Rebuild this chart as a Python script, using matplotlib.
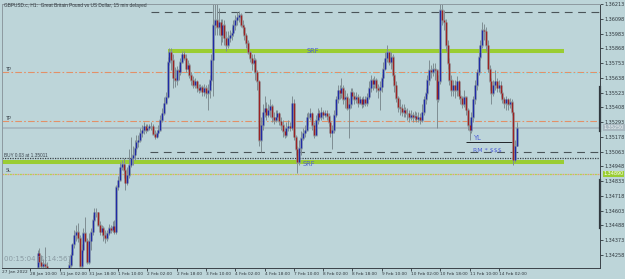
import numpy as np
import matplotlib.pyplot as plt
from matplotlib import transforms

# GBPUSD.c H1 bars, bar index 0 = 28 Jan 10:00, first drawn bar is index 4
first_bar = 4
open0 = 1.3416
close = [1.3427, 1.3420, 1.3417, 1.3419, 1.3417, 1.3413,
         1.3408, 1.3404, 1.3400, 1.3398, 1.3402, 1.3405, 1.3401, 1.3399, 1.3403, 1.3406, 1.3410,
         1.3418, 1.3426, 1.3434, 1.3441, 1.3444, 1.3439, 1.3417, 1.3430, 1.3443, 1.3437,
         1.3420, 1.3437, 1.3444, 1.3453, 1.3459, 1.3459, 1.3449, 1.3444, 1.3447, 1.3441,
         1.3439, 1.3443, 1.3447, 1.3445, 1.3448, 1.3444, 1.3479, 1.3484, 1.3494, 1.3497,
         1.3492, 1.3482, 1.3488, 1.3496, 1.3501, 1.3504, 1.3509, 1.3514, 1.3515, 1.3521,
         1.3523, 1.3526, 1.3523, 1.3525, 1.3526, 1.3526, 1.3520, 1.3518, 1.3521, 1.3523,
         1.3531, 1.3536, 1.3544, 1.3549, 1.3576, 1.3584, 1.3578, 1.3564, 1.3562, 1.3570,
         1.3568, 1.3576, 1.3582, 1.3579, 1.3571, 1.3574, 1.3566, 1.3562, 1.3558, 1.3561,
         1.3556, 1.3554, 1.3557, 1.3553, 1.3556, 1.3552, 1.3554, 1.3562, 1.3578, 1.3605,
         1.3609, 1.3603, 1.3607, 1.3597, 1.3605, 1.3595, 1.3589, 1.3595, 1.3597, 1.3599,
         1.3605, 1.3609, 1.3611, 1.3613, 1.3605, 1.3603, 1.3597, 1.3591, 1.3584, 1.3579,
         1.3575, 1.3578, 1.3568, 1.3561, 1.3515, 1.3527, 1.3537, 1.3540, 1.3535, 1.3539,
         1.3542, 1.3533, 1.3531, 1.3533, 1.3536, 1.3530, 1.3527, 1.3522, 1.3519, 1.3525,
         1.3526, 1.3525, 1.3544, 1.3518, 1.3508, 1.3498, 1.3509, 1.3517, 1.3521, 1.3523,
         1.3533, 1.3533, 1.3536, 1.3527, 1.3519, 1.3531, 1.3536, 1.3533, 1.3537, 1.3535,
         1.3536, 1.3534, 1.3529, 1.3521, 1.3523, 1.3535, 1.3547, 1.3554, 1.3552, 1.3556,
         1.3547, 1.3549, 1.3540, 1.3543, 1.3553, 1.3550, 1.3547, 1.3549, 1.3544, 1.3547,
         1.3543, 1.3547, 1.3544, 1.3549, 1.3556, 1.3562, 1.3559, 1.3562, 1.3556, 1.3554,
         1.3557, 1.3564, 1.3571, 1.3579, 1.3584, 1.3576, 1.3580, 1.3566, 1.3558, 1.3548,
         1.3541, 1.3540, 1.3537, 1.3539, 1.3536, 1.3536, 1.3533, 1.3535, 1.3533, 1.3534,
         1.3532, 1.3533, 1.3531, 1.3537, 1.3547, 1.3552, 1.3562, 1.3570, 1.3568, 1.3571,
         1.3570, 1.3547, 1.3561, 1.3617, 1.3609, 1.3607, 1.3589, 1.3575, 1.3562, 1.3554,
         1.3558, 1.3554, 1.3561, 1.3550, 1.3548, 1.3543, 1.3549, 1.3539, 1.3527, 1.3523,
         1.3533, 1.3547, 1.3558, 1.3568, 1.3580, 1.3589, 1.3601, 1.3600, 1.3589, 1.3571,
         1.3561, 1.3552, 1.3558, 1.3561, 1.3556, 1.3558, 1.3552, 1.3547, 1.3544, 1.3547,
         1.3543, 1.3545, 1.3537, 1.3500, 1.3511, 1.3525]
high = [1.3430, 1.3431, 1.3426, 1.3423, 1.3432, 1.3420,
        1.3413, 1.3409, 1.3406, 1.3404, 1.3406, 1.3410, 1.3407, 1.3404, 1.3407, 1.3411, 1.3414,
        1.3423, 1.3428, 1.3435, 1.3445, 1.3449, 1.3451, 1.3441, 1.3434, 1.3447, 1.3455,
        1.3439, 1.3443, 1.3447, 1.3457, 1.3462, 1.3462, 1.3459, 1.3452, 1.3449, 1.3448,
        1.3445, 1.3445, 1.3450, 1.3449, 1.3452, 1.3453, 1.3480, 1.3487, 1.3498, 1.3500,
        1.3501, 1.3496, 1.3494, 1.3508, 1.3518, 1.3511, 1.3515, 1.3519, 1.3519, 1.3525,
        1.3527, 1.3529, 1.3528, 1.3528, 1.3528, 1.3529, 1.3528, 1.3523, 1.3523, 1.3527,
        1.3535, 1.3540, 1.3549, 1.3553, 1.3580, 1.3587, 1.3587, 1.3582, 1.3572, 1.3573,
        1.3574, 1.3579, 1.3585, 1.3585, 1.3582, 1.3578, 1.3575, 1.3568, 1.3565, 1.3564,
        1.3562, 1.3559, 1.3559, 1.3558, 1.3559, 1.3558, 1.3559, 1.3566, 1.3582, 1.3628,
        1.3621, 1.3621, 1.3618, 1.3610, 1.3610, 1.3609, 1.3600, 1.3600, 1.3601, 1.3603,
        1.3609, 1.3613, 1.3615, 1.3616, 1.3614, 1.3609, 1.3605, 1.3599, 1.3593, 1.3585,
        1.3582, 1.3582, 1.3579, 1.3570, 1.3562, 1.3533, 1.3543, 1.3550, 1.3545, 1.3543,
        1.3547, 1.3543, 1.3537, 1.3539, 1.3539, 1.3537, 1.3533, 1.3531, 1.3525, 1.3529,
        1.3531, 1.3529, 1.3550, 1.3547, 1.3519, 1.3511, 1.3515, 1.3522, 1.3525, 1.3527,
        1.3536, 1.3537, 1.3540, 1.3537, 1.3529, 1.3535, 1.3540, 1.3539, 1.3541, 1.3539,
        1.3539, 1.3539, 1.3536, 1.3531, 1.3527, 1.3539, 1.3550, 1.3558, 1.3558, 1.3564,
        1.3558, 1.3554, 1.3552, 1.3548, 1.3556, 1.3556, 1.3553, 1.3553, 1.3551, 1.3550,
        1.3549, 1.3550, 1.3550, 1.3552, 1.3561, 1.3566, 1.3564, 1.3565, 1.3564, 1.3559,
        1.3561, 1.3567, 1.3576, 1.3584, 1.3589, 1.3585, 1.3584, 1.3582, 1.3568, 1.3561,
        1.3550, 1.3547, 1.3543, 1.3543, 1.3541, 1.3540, 1.3539, 1.3539, 1.3537, 1.3538,
        1.3537, 1.3537, 1.3536, 1.3543, 1.3550, 1.3556, 1.3566, 1.3578, 1.3574, 1.3575,
        1.3575, 1.3571, 1.3566, 1.3631, 1.3628, 1.3617, 1.3610, 1.3593, 1.3579, 1.3566,
        1.3562, 1.3562, 1.3565, 1.3562, 1.3554, 1.3550, 1.3554, 1.3550, 1.3540, 1.3531,
        1.3537, 1.3550, 1.3562, 1.3571, 1.3584, 1.3593, 1.3607, 1.3606, 1.3603, 1.3593,
        1.3574, 1.3564, 1.3562, 1.3570, 1.3564, 1.3562, 1.3561, 1.3554, 1.3549, 1.3550,
        1.3548, 1.3548, 1.3547, 1.3539, 1.3515, 1.3529]
low = [1.3414, 1.3419, 1.3414, 1.3413, 1.3410, 1.3408,
       1.3403, 1.3399, 1.3395, 1.3393, 1.3397, 1.3400, 1.3396, 1.3394, 1.3398, 1.3401, 1.3405,
       1.3410, 1.3416, 1.3418, 1.3431, 1.3437, 1.3436, 1.3416, 1.3414, 1.3428, 1.3436,
       1.3419, 1.3419, 1.3430, 1.3441, 1.3452, 1.3455, 1.3448, 1.3441, 1.3441, 1.3437,
       1.3435, 1.3437, 1.3441, 1.3443, 1.3444, 1.3442, 1.3442, 1.3476, 1.3483, 1.3492,
       1.3486, 1.3476, 1.3480, 1.3486, 1.3494, 1.3496, 1.3500, 1.3506, 1.3510, 1.3514,
       1.3518, 1.3520, 1.3521, 1.3522, 1.3523, 1.3523, 1.3519, 1.3516, 1.3517, 1.3519,
       1.3522, 1.3529, 1.3535, 1.3543, 1.3548, 1.3574, 1.3570, 1.3556, 1.3557, 1.3558,
       1.3562, 1.3566, 1.3575, 1.3578, 1.3568, 1.3570, 1.3564, 1.3558, 1.3556, 1.3556,
       1.3553, 1.3552, 1.3553, 1.3550, 1.3550, 1.3548, 1.3539, 1.3548, 1.3558, 1.3550,
       1.3597, 1.3597, 1.3597, 1.3589, 1.3592, 1.3589, 1.3585, 1.3587, 1.3592, 1.3593,
       1.3596, 1.3601, 1.3605, 1.3607, 1.3603, 1.3599, 1.3593, 1.3587, 1.3582, 1.3576,
       1.3570, 1.3568, 1.3562, 1.3554, 1.3511, 1.3506, 1.3523, 1.3533, 1.3531, 1.3533,
       1.3533, 1.3529, 1.3528, 1.3529, 1.3531, 1.3527, 1.3523, 1.3518, 1.3517, 1.3518,
       1.3522, 1.3522, 1.3523, 1.3515, 1.3504, 1.3490, 1.3496, 1.3504, 1.3515, 1.3518,
       1.3522, 1.3527, 1.3531, 1.3523, 1.3517, 1.3519, 1.3528, 1.3531, 1.3531, 1.3532,
       1.3533, 1.3531, 1.3526, 1.3518, 1.3508, 1.3521, 1.3533, 1.3544, 1.3547, 1.3548,
       1.3543, 1.3540, 1.3539, 1.3517, 1.3540, 1.3547, 1.3543, 1.3544, 1.3541, 1.3543,
       1.3540, 1.3541, 1.3542, 1.3542, 1.3547, 1.3553, 1.3554, 1.3556, 1.3553, 1.3548,
       1.3539, 1.3553, 1.3561, 1.3570, 1.3576, 1.3574, 1.3571, 1.3562, 1.3553, 1.3545,
       1.3537, 1.3535, 1.3534, 1.3533, 1.3533, 1.3531, 1.3529, 1.3531, 1.3529, 1.3531,
       1.3529, 1.3529, 1.3528, 1.3529, 1.3535, 1.3543, 1.3550, 1.3558, 1.3564, 1.3565,
       1.3562, 1.3525, 1.3545, 1.3559, 1.3605, 1.3601, 1.3585, 1.3571, 1.3558, 1.3550,
       1.3550, 1.3548, 1.3550, 1.3547, 1.3543, 1.3540, 1.3541, 1.3535, 1.3523, 1.3515,
       1.3521, 1.3529, 1.3543, 1.3554, 1.3566, 1.3578, 1.3587, 1.3593, 1.3585, 1.3568,
       1.3554, 1.3543, 1.3550, 1.3554, 1.3553, 1.3553, 1.3549, 1.3544, 1.3540, 1.3539,
       1.3539, 1.3540, 1.3535, 1.3496, 1.3498, 1.3511]

price_ticks = [1.36213, 1.36098, 1.35983, 1.35868, 1.35753, 1.35638, 1.35523, 1.35408,
               1.35293, 1.35178, 1.35063, 1.34948, 1.34833, 1.34718, 1.34603, 1.34488,
               1.34373, 1.34258]
time_labels = ["28 Jan 10:00", "31 Jan 02:00", "31 Jan 18:00", "1 Feb 10:00",
               "2 Feb 02:00", "2 Feb 18:00", "3 Feb 10:00", "4 Feb 02:00", "4 Feb 18:00",
               "7 Feb 10:00", "8 Feb 02:00", "8 Feb 18:00", "9 Feb 10:00", "10 Feb 02:00",
               "10 Feb 18:00", "11 Feb 10:00", "14 Feb 02:00"]

# objects drawn on the chart
dash_top = 1.3615
srf_top = 1.3585
tp1 = 1.3568
tp2 = 1.3530
bid = 1.3525
dash_low = 1.3506
buy_level = 1.3501
srf_low = 1.3498
sl = 1.3489
yl = 1.3514

bg = '#bdd5d9'
blue = '#1f2aa6'
red = '#9c2222'

fig = plt.figure(figsize=(6.25, 2.79), dpi=100, facecolor=bg)
ax = fig.add_axes([2/625, 11/279, 598/625, 264/279], facecolor=bg)
ax.set_xlim(-15.45, 311.3)
ax.set_ylim(1.34156, 1.36213)

x = np.arange(first_bar, first_bar + len(close))
c = np.array(close)
o = np.r_[open0, c[:-1]]
h = np.array(high)
l = np.array(low)
up = c >= o

# levels
ax.hlines(dash_top, 66, 311.3, color='#4a5458', lw=0.8, ls=(0, (7, 5)))
ax.hlines(dash_low, 65.5, 311.3, color='#4a5458', lw=0.8, ls=(0, (7, 5)))
ax.axhline(tp1, color='#e39068', lw=0.8, ls=(0, (6, 2, 1.5, 2)))
ax.hlines(tp1 - 0.00003, 78, 311.3, color='#7fe6f2', lw=0.8, ls=(0, (1, 2)))
ax.axhline(tp2, color='#e39068', lw=0.8, ls=(0, (6, 2, 1.5, 2)))
ax.axhline(bid, color='#a9b9c1', lw=1.4)
ax.axhline(buy_level, color='#3a4248', lw=0.9, ls=(0, (1, 1)))
ax.axhline(sl, color='#e6a070', lw=0.9, ls=(0, (1.5, 2.5)))
ax.axhline(sl, color='#b4d24a', lw=0.9, ls=(2, (1.5, 2.5)))
ax.hlines(srf_top, 75.4, 291.8, color='#9acd32', lw=2.9)
ax.hlines(srf_low, -15.45, 291.8, color='#9acd32', lw=2.9)
ax.hlines(yl, 238.3, 264, color='#202428', lw=0.7)

# candles
ax.vlines(x, l, h, color='#7f8d92', lw=0.7)
ax.vlines(x, np.minimum(o, c) - 0.00005, np.maximum(o, c) + 0.00005,
          color='#8e9ea3', lw=1.9, alpha=0.85)
ax.vlines(x[up], o[up], c[up], color=blue, lw=1.0)
ax.vlines(x[~up], o[~up], c[~up], color=red, lw=1.0)

# labels on levels
tb = transforms.blended_transform_factory(ax.transAxes, ax.transData)
lab = dict(fontsize=3.4, family='Liberation Sans', color='#39424a')
ax.text(0.006, tp1 + 0.00004, 'TP', va='bottom', transform=tb, **lab)
ax.text(0.006, tp2 + 0.00004, 'TP', va='bottom', transform=tb, **lab)
ax.text(0.006, sl + 0.00004, 'SL', va='bottom', transform=tb, **lab)
ax.text(0.003, buy_level + 0.00003, 'BUY 0.03 at 1.35011', va='bottom', transform=tb, **lab)
ax.text(154.6, srf_top, 'SRF', ha='center', va='center', fontsize=4.8, color='#4f5fd6')
ax.text(152.5, srf_low - 0.0001, 'SRF', ha='center', va='center', fontsize=4.8, color='#4f5fd6')
ax.text(242.6, yl + 0.00004, 'YL', va='bottom', fontsize=4.8, color='#4f5fd6')
ax.text(242.0, yl - 0.00072, 'RM * $$$', va='center', fontsize=4.5, color='#4f5fd6')
ax.text(0.003, 0.03, '00:15:04 [1:14:56]', transform=ax.transAxes, fontsize=5,
        color='#8a9ba3')
fig.text(4/625, 1 - 6/279, 'GBPUSD.c, H1:  Great Britain Pound vs US Dollar, 15 min delayed',
         va='center', fontsize=3.4, family='Liberation Sans', color='#2e363c')

# axes
ax.yaxis.tick_right()
ax.set_yticks(price_ticks)
ax.set_yticklabels(['%.5f' % p for p in price_ticks])
ax.tick_params(axis='y', length=2, width=0.6, pad=1, labelsize=3.5, colors='#2e363c')
ax.set_xticks(np.arange(0, 257, 16))
ax.set_xticklabels(time_labels)
ax.tick_params(axis='x', length=2, width=0.6, pad=1, labelsize=3.1, colors='#2e363c')
for t in ax.get_xticklabels():
    t.set_ha('left')
ax.text(-15.3, -0.006, '27 Jan 2022', transform=transforms.blended_transform_factory(
    ax.transData, ax.transAxes), va='top', fontsize=3.1, color='#2e363c', clip_on=False)
for s in ['left', 'top']:
    ax.spines[s].set_color('#8d9aa0')
    ax.spines[s].set_linewidth(0.7)
for s in ['right', 'bottom']:
    ax.spines[s].set_color('#3a4248')
    ax.spines[s].set_linewidth(0.7)

tr = transforms.blended_transform_factory(ax.transAxes, ax.transData)
ax.plot([1, 1], [1.3557, 1.3522], color='#30383e', lw=1.6, transform=tr, clip_on=False)
ax.plot([1, 1], [1.3484, 1.3447], color='#30383e', lw=1.6, transform=tr, clip_on=False)

# price boxes on the scale
box = dict(boxstyle='square,pad=0.15', ec='none')
ax.text(1.006, bid, '%.5f' % bid, transform=tr, va='center', fontsize=3.5, color='#f0f4f6',
        bbox=dict(box, fc='#a9b9c1'), clip_on=False)
ax.text(1.006, sl, '%.5f' % sl, transform=tr, va='center', fontsize=3.5, color='#ffffff',
        bbox=dict(box, fc='#9acd32'), clip_on=False)

fig.savefig('out.png', dpi=100, facecolor=bg)
